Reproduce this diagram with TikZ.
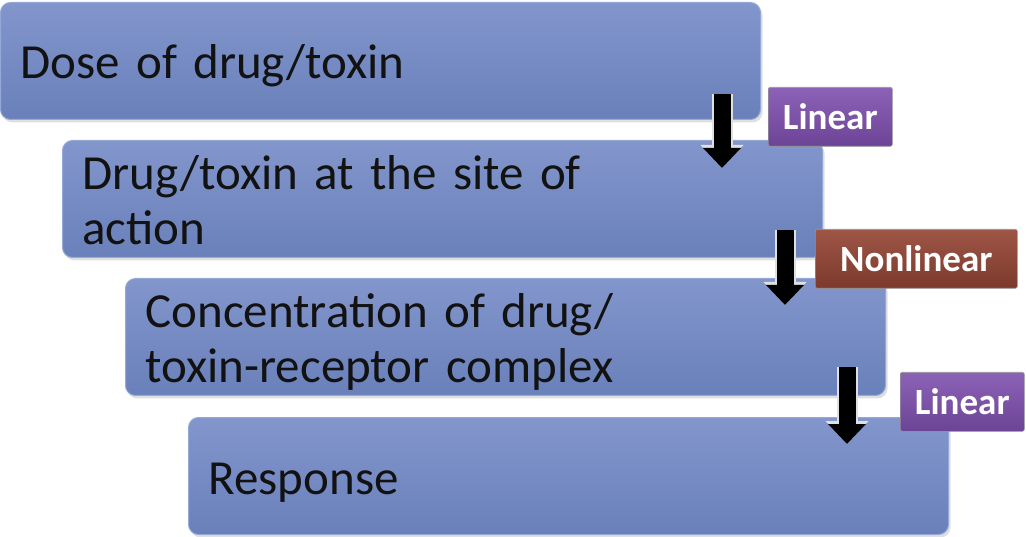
\documentclass[tikz,border=0pt]{standalone}
\usepackage{fontspec}
\setmainfont{Carlito}
\usetikzlibrary{arrows.meta,calc,shadows}
\definecolor{boxtop}{RGB}{130,150,204}
\definecolor{boxbot}{RGB}{106,128,186}
\definecolor{boxedge}{RGB}{150,168,214}
\definecolor{lintop}{RGB}{140,98,182}
\definecolor{linbot}{RGB}{108,68,150}
\definecolor{nontop}{RGB}{158,86,70}
\definecolor{nonbot}{RGB}{124,58,44}
\definecolor{ink}{RGB}{18,18,18}

\begin{document}
\begin{tikzpicture}[x=1pt,y=1pt,
  stepbox/.style={draw=boxedge,line width=1pt,rounded corners=10pt,top color=boxtop,bottom color=boxbot,
    anchor=north west,text width=720pt,inner xsep=20pt,inner ysep=0pt,align=left,minimum height=117pt,
    text=ink,font=\fontsize{49}{55}\selectfont,
    execute at begin node=\rule{0pt}{46pt},execute at end node=\rule[-10pt]{0pt}{0pt},
    drop shadow={shadow xshift=2pt,shadow yshift=-3pt,opacity=.25}},
  tag/.style={anchor=north west,rounded corners=2pt,minimum height=59pt,inner sep=0pt,
    draw=white!60!black,line width=.6pt,text=white,font=\fontsize{37}{40}\selectfont\bfseries},
  flowarr/.style={line width=17pt,-{Triangle[width=38pt,length=20pt,line width=0pt]},
    preaction={draw=black!12,line width=21pt,-{Triangle[width=43pt,length=23pt,line width=0pt]}}}]
\useasboundingbox (0,0) rectangle (1026,-537);
% the four steps
\node[stepbox] (dose) at (0,-2) {Dose of drug/toxin};
\node[stepbox] (site) at (62,-140) {Drug/toxin at the site of\\action};
\node[stepbox] (complex) at (125,-278) {Concentration of drug/\\toxin-receptor complex};
\node[stepbox] (response) at (188,-417) {Response};
% arrows between steps
\coordinate (a1) at ($(dose.south east)+(-39,26)$);
\coordinate (b1) at ($(a1 |- site.north)+(0,-28)$);
\coordinate (a2) at ($(site.south east)+(-38,28)$);
\coordinate (b2) at ($(a2 |- complex.north)+(0,-27)$);
\coordinate (a3) at ($(complex.south east)+(-39,29)$);
\coordinate (b3) at ($(a3 |- response.north)+(0,-27)$);
\draw[flowarr] (a1)--(b1);
\draw[flowarr] (a2)--(b2);
\draw[flowarr] (a3)--(b3);
% relation tags
\node[tag,top color=lintop,bottom color=linbot,minimum width=124pt] (lin1) at (768,-87) {Linear};
\node[tag,top color=nontop,bottom color=nonbot,minimum width=202pt] (nonlin) at (815,-229) {Nonlinear};
\node[tag,top color=lintop,bottom color=linbot,minimum width=124pt] (lin2) at (900,-372) {Linear};
\end{tikzpicture}
\end{document}
